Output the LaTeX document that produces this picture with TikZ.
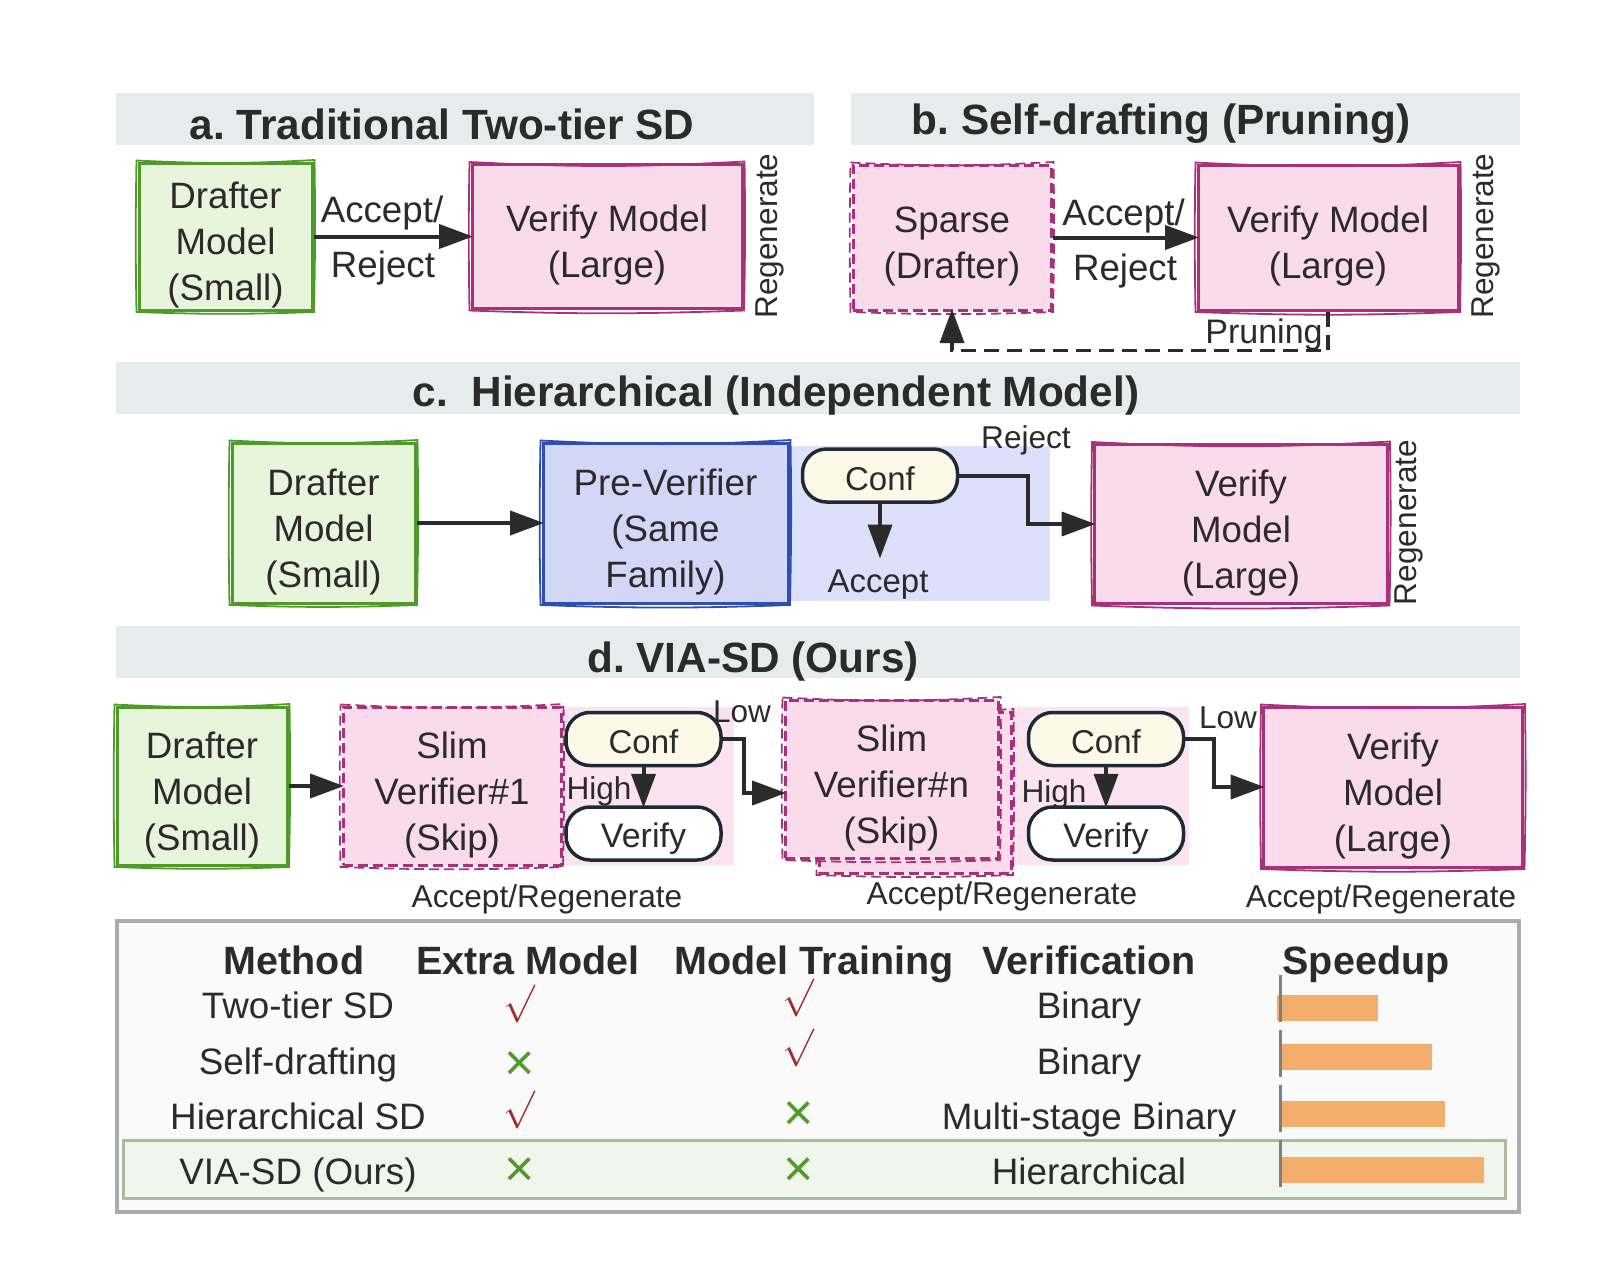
\documentclass[tikz,border=0pt]{standalone}
\usepackage{fontspec}
\setmainfont{Liberation Sans}
\usetikzlibrary{arrows.meta,positioning}
\frenchspacing
\newcommand{\boxpad}{\rule{0pt}{44pt}}
\newcommand{\roughen}[2]{\draw [#2, line width=1.8pt] ([shift={(-1pt,1pt)}]#1.north west) to [bend right=3] ([shift={(1pt,1.5pt)}]#1.north east) to [bend left=1] ([shift={(0.5pt,-0.5pt)}]#1.south east) to [bend left=2] ([shift={(-1pt,-0.5pt)}]#1.south west) to [bend left=1] cycle;}
\definecolor{inktext}{HTML}{2B2B2B}
\definecolor{barhead}{HTML}{E8EBEC}
\definecolor{greenline}{HTML}{4F9A28}
\definecolor{greenfill}{HTML}{E6F5DC}
\definecolor{pinkline}{HTML}{A8327A}
\definecolor{pinkfill}{HTML}{FADBEC}
\definecolor{pinktint}{HTML}{FBE4F0}
\definecolor{blueline}{HTML}{2F4FB0}
\definecolor{bluefill}{HTML}{D2D6F7}
\definecolor{bluetint}{HTML}{DDE0FA}
\definecolor{pillline}{HTML}{1E2A33}
\definecolor{pillfill}{HTML}{FDF9E9}
\definecolor{orangebar}{HTML}{F2AE6A}
\definecolor{checkred}{HTML}{A02C2C}
\definecolor{tableline}{HTML}{ABABAB}
\definecolor{tablefill}{HTML}{FAFAFA}
\definecolor{oursline}{HTML}{A9BD9C}
\definecolor{oursfill}{HTML}{F0F6EC}
\tikzstyle{headerbar}=[
	rectangle,
	fill=barhead,
	inner sep=0pt,
	minimum height=52pt
]
\tikzstyle{headertext}=[
	text=inktext,
	font=\fontsize{42.3}{46}\selectfont\bfseries
]
\tikzstyle{modelbox}=[
	rectangle,
	line width=3pt,
	inner sep=0pt,
	align=center,
	text=inktext,
	font=\fontsize{36.7}{46}\selectfont
]
\tikzstyle{drafter}=[
	modelbox,
	draw=greenline,
	fill=greenfill
]
\tikzstyle{verifier}=[
	modelbox,
	draw=pinkline,
	fill=pinkfill
]
\tikzstyle{slimdash}=[dash pattern=on 10pt off 5pt]
\tikzstyle{slim}=[
	verifier,
	slimdash
]
\tikzstyle{preverifier}=[
	modelbox,
	draw=blueline,
	fill=bluefill
]
\tikzstyle{tint}=[
	rectangle,
	inner sep=0pt,
	minimum height=158pt
]
\tikzstyle{pill}=[
	rectangle,
	rounded corners=24pt,
	draw=pillline,
	line width=3.5pt,
	minimum width=155pt,
	minimum height=53pt,
	inner sep=0pt,
	text=inktext
]
\tikzstyle{conf}=[
	pill,
	fill=pillfill,
	execute at begin node={\rule{0pt}{30pt}},
	font=\fontsize{33}{40}\selectfont
]
\tikzstyle{verifypill}=[
	pill,
	fill=white,
	execute at begin node={\rule{0pt}{36pt}},
	font=\fontsize{34}{40}\selectfont
]
\tikzstyle{flow}=[
	-{Triangle[length=34pt,width=24pt]},
	shorten >=-2.5pt,
	line width=4pt,
	draw=inktext
]
\tikzstyle{pruneflow}=[
	flow,
	line width=3.5pt,
	dash pattern=on 15pt off 8pt
]
\tikzstyle{arrowlabel}=[text=inktext, inner sep=0pt, font=\fontsize{36.7}{46}\selectfont]
\tikzstyle{smalllabel}=[text=inktext, inner sep=0pt, font=\fontsize{31.6}{38}\selectfont]
\tikzstyle{sidelabel}=[smalllabel, rotate=90]
\tikzstyle{tablehead}=[text=inktext, inner sep=0pt, anchor=base, font=\fontsize{39.5}{46}\selectfont\bfseries]
\tikzstyle{tablecell}=[text=inktext, inner sep=0pt, anchor=base, font=\fontsize{36.8}{46}\selectfont]
\tikzstyle{checkmk}=[text=checkred, inner sep=0pt, scale=3.8]
\tikzstyle{crossmk}=[text=greenline, inner sep=0pt, font=\fontsize{52}{60}\selectfont]
\tikzstyle{speedbar}=[rectangle, fill=orangebar, inner sep=0pt, anchor=west, minimum height=26pt]

\begin{document}
\begin{tikzpicture}[x=1pt,y=-1pt]
\useasboundingbox (0,0) rectangle (1600,1277);

% a
\node [headerbar, minimum width=698pt] (BarA) at (465,119) {};
\node [headertext] (TitleA) at (442,124) {a. Traditional Two-tier SD};
\node [drafter, minimum width=173pt, minimum height=147pt] (DrafterA) at (225.5,236.5) {\boxpad Drafter\\Model\\(Small)};
\node [verifier, minimum width=270pt, minimum height=144pt] (VerifyA)[right=157pt of DrafterA] {\boxpad Verify Model\\(Large)};
\roughen{DrafterA}{greenline}
\roughen{VerifyA}{pinkline}
\draw [flow] (DrafterA) -- (VerifyA);
\node [arrowlabel] (AcceptA) at (382,213) {Accept/};
\node [arrowlabel] (RejectA) at (383,268) {Reject};
\node [sidelabel] (RegenA) at (770,236) {Regenerate};

% b
\node [headerbar, minimum width=669pt] (BarB) at (1185.5,119) {};
\node [headertext] (TitleB) at (1161,124) {b. Self-drafting (Pruning)};
\node [slim, minimum width=198pt, minimum height=145pt] (SparseB) at (952,237.5) {\boxpad Sparse\\(Drafter)};
\node [verifier, minimum width=260pt, minimum height=145pt] (VerifyB)[right=144pt of SparseB] {\boxpad Verify Model\\(Large)};
\roughen{SparseB}{pinkline, slimdash}
\roughen{VerifyB}{pinkline}
\draw [flow] (SparseB) -- (VerifyB);
\node [arrowlabel] (AcceptB) at (1123.5,216) {Accept/};
\node [arrowlabel] (RejectB) at (1125,271) {Reject};
\node [sidelabel] (RegenB) at (1486,236) {Regenerate};
\node [text=inktext, inner sep=0pt, font=\fontsize{34}{40}\selectfont] (PruneB) at (1264,335) {Pruning};
\draw [pruneflow] (VerifyB.south) -- ++(0,39) -| (SparseB.south);

% c
\node [headerbar, minimum width=1404pt] (BarC) at (818,388) {};
\node [headertext] (TitleC) at (776,396) {c.\ \ Hierarchical (Independent Model)};
\node [tint, fill=bluetint, minimum width=263pt, minimum height=155pt] (TintC) at (918.5,523.5) {};
\node [drafter, minimum width=183pt, minimum height=160pt] (DrafterC) at (323.5,523) {\boxpad Drafter\\Model\\(Small)};
\node [preverifier, minimum width=245pt, minimum height=160pt] (PreC)[right=125pt of DrafterC] {\boxpad Pre-Verifier\\(Same\\Family)};
\roughen{DrafterC}{greenline}
\roughen{PreC}{blueline}
\draw [flow] (DrafterC) -- (PreC);
\node [conf] (ConfC) at (880,475.5) {Conf};
\node [verifier, minimum width=293pt, minimum height=159pt] (VerifyC) at (1241,524) {\boxpad Verify\\Model\\(Large)};
\roughen{VerifyC}{pinkline}
\coordinate (AcceptTip) at (880,556);
\draw [flow] (ConfC.south) -- (AcceptTip);
\draw [flow] (ConfC.east) -- ++(69,0) |- (VerifyC.west);
\node [text=inktext, inner sep=0pt, font=\fontsize{33}{40}\selectfont] (AcceptC) at (878,585) {Accept};
\node [smalllabel] (RejectC) at (1026,440) {Reject};
\node [sidelabel] (RegenC) at (1409,522.5) {Regenerate};

% d
\node [headerbar, minimum width=1404pt] (BarD) at (818,652) {};
\node [headertext] (TitleD) at (753,662) {d. VIA-SD (Ours)};
\node [tint, fill=pinktint, minimum width=179pt] (TintOne) at (644.5,786) {};
\node [tint, fill=pinktint, minimum width=197pt] (TintTwo) at (1090.5,786) {};
\node [drafter, minimum width=170pt, minimum height=158pt] (DrafterD) at (202,786) {\boxpad Drafter\\Model\\(Small)};
\node [slim, minimum width=218pt, minimum height=158pt] (SlimOne)[right=53pt of DrafterD] {\boxpad Slim\\Verifier\#1\\(Skip)};
\roughen{DrafterD}{greenline}
\roughen{SlimOne}{pinkline, slimdash}
\draw [flow] (DrafterD) -- (SlimOne);
\node [conf] (ConfOne) at (643.5,739) {Conf};
\node [verifypill] (CheckOne) at (643.5,833.5) {Verify};
\draw [flow] (ConfOne) -- (CheckOne);
\node [slim, minimum width=192pt, minimum height=161pt] (SlimBack) at (915,792.5) {};
\roughen{SlimBack}{pinkline, slimdash}
\node [slim, minimum width=213pt, minimum height=158pt] (SlimN) at (891.5,779) {\boxpad Slim\\Verifier\#n\\(Skip)};
\roughen{SlimN}{pinkline, slimdash}
\draw [flow] (ConfOne.east) -- ++(21,0) |- ([yshift=-14pt]SlimN.west);
\node [conf] (ConfTwo) at (1106,739) {Conf};
\node [verifypill] (CheckTwo) at (1106,833.5) {Verify};
\draw [flow] (ConfTwo) -- (CheckTwo);
\node [verifier, minimum width=259pt, minimum height=160pt] (VerifyD) at (1393,787) {\boxpad Verify\\Model\\(Large)};
\roughen{VerifyD}{pinkline}
\draw [flow] (ConfTwo.east) -- ++(29,0) |- (VerifyD.west);
\node [smalllabel] (HighOne) at (599,791) {High};
\node [smalllabel] (LowOne) at (742,712) {Low};
\node [smalllabel] (HighTwo) at (1054,794) {High};
\node [smalllabel] (LowTwo) at (1228,718) {Low};
\node [smalllabel] (ResultOne) at (547,899) {Accept/Regenerate};
\node [smalllabel] (ResultTwo) at (1002,896) {Accept/Regenerate};
\node [smalllabel] (ResultThree) at (1381,899) {Accept/Regenerate};

% table
\node [rectangle, draw=tableline, fill=tablefill, line width=3.5pt, inner sep=0pt, minimum width=1402pt, minimum height=291pt] (TableBox) at (818,1066.5) {};
\node [rectangle, draw=oursline, fill=oursfill, line width=3pt, inner sep=0pt, minimum width=1382pt, minimum height=58pt] (OursRow) at (814,1169) {};
\node [tablehead] (HeadMethod) at (294,974) {Method};
\node [tablehead] (HeadExtra) at (528,974) {Extra Model};
\node [tablehead] (HeadTrain) at (814,974) {Model Training};
\node [tablehead] (HeadVerif) at (1089,974) {Verification};
\node [tablehead] (HeadSpeed) at (1366,974) {Speedup};

\node [tablecell] (MethodOne) at (298,1018) {Two-tier SD};
\node [tablecell] (MethodTwo) at (298,1074) {Self-drafting};
\node [tablecell] (MethodThree) at (298,1129) {Hierarchical SD};
\node [tablecell] (MethodFour) at (298,1184) {VIA-SD (Ours)};

\node [checkmk] (ExtraOne) at (519,1004) {$\surd$};
\node [crossmk] (ExtraTwo) at (520,1066) {×};
\node [checkmk] (ExtraThree) at (519,1110) {$\surd$};
\node [crossmk] (ExtraFour) at (520,1172) {×};
\node [checkmk] (TrainOne) at (798,998) {$\surd$};
\node [checkmk] (TrainTwo) at (798,1048) {$\surd$};
\node [crossmk] (TrainThree) at (799,1116) {×};
\node [crossmk] (TrainFour) at (799,1172) {×};

\node [tablecell] (VerifOne) at (1089,1018) {Binary};
\node [tablecell] (VerifTwo) at (1089,1074) {Binary};
\node [tablecell] (VerifThree) at (1089,1129) {Multi-stage Binary};
\node [tablecell] (VerifFour) at (1089,1184) {Hierarchical};

\node [speedbar, minimum width=101pt] (SpeedOne) at (1277,1008) {};
\node [speedbar, minimum width=151pt] (SpeedTwo) at (1281,1057) {};
\node [speedbar, minimum width=164pt] (SpeedThree) at (1281,1114) {};
\node [speedbar, minimum width=203pt] (SpeedFour) at (1281,1170) {};
\coordinate (AxisTop) at (1280,975);
\coordinate (AxisBottom) at (1280,1188);
\draw [black!50, line width=3pt, dash pattern=on 47pt off 8pt] (AxisTop) -- (AxisBottom);
\end{tikzpicture}
\end{document}
